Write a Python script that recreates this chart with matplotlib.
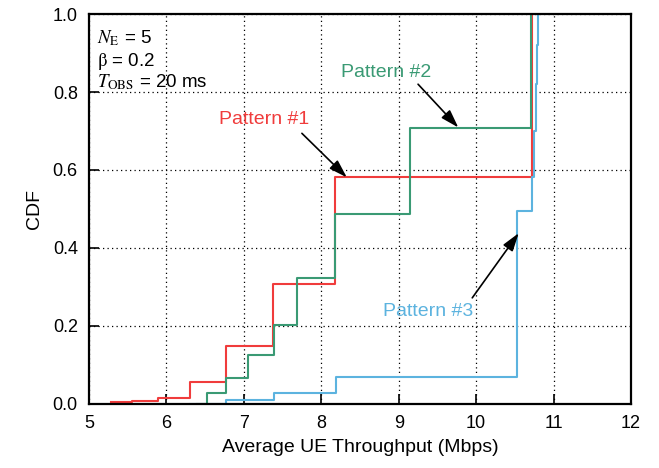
import matplotlib
matplotlib.use("Agg")
import matplotlib.pyplot as plt

plt.rcParams["font.family"] = ["Liberation Sans", "DejaVu Sans"]
plt.rcParams["mathtext.fontset"] = "stix"

# step points (x in Mbps, CDF value from x onward)
p1_x = [5.29, 5.55, 5.89, 6.30, 6.77, 7.38, 8.18, 10.72]
p1_y = [0.004, 0.008, 0.015, 0.057, 0.149, 0.307, 0.583, 1.0]

p2_x = [6.40, 6.53, 6.77, 7.05, 7.39, 7.69, 8.18, 9.15, 10.71]
p2_y = [0.0, 0.027, 0.067, 0.126, 0.203, 0.324, 0.487, 0.708, 1.0]

p3_x = [6.30, 6.77, 7.39, 8.19, 10.53, 10.72, 10.75, 10.77, 10.79, 10.80]
p3_y = [0.0, 0.010, 0.029, 0.070, 0.496, 0.581, 0.70, 0.82, 0.92, 1.0]

x_ticks = [5, 6, 7, 8, 9, 10, 11, 12]
y_ticks = [0.0, 0.2, 0.4, 0.6, 0.8, 1.0]

RED = "#f03c3c"
GREEN = "#3a9a74"
BLUE = "#5cb3df"

fig = plt.figure(figsize=(6.59, 4.68), dpi=100)
ax = fig.add_axes([0.135, 0.137, 0.8225, 0.833])

ax.step(p1_x, p1_y, where="post", color=RED, lw=1.5)
ax.step(p2_x, p2_y, where="post", color=GREEN, lw=1.5)
ax.step(p3_x, p3_y, where="post", color=BLUE, lw=1.5)

ax.set_xlim(5, 12)
ax.set_ylim(0, 1)
ax.set_xticks(x_ticks)
ax.set_yticks(y_ticks)
ax.set_yticklabels([f"{v:.1f}" for v in y_ticks])
ax.tick_params(direction="in", length=7, width=1.2, labelsize=13, pad=8)
ax.grid(True, color="black", lw=0.9, linestyle=(0, (1, 2.6)))
for s in ax.spines.values():
    s.set_linewidth(1.6)

ax.set_xlabel("Average UE Throughput (Mbps)", fontsize=14, labelpad=5)
ax.set_ylabel("CDF", fontsize=14, labelpad=7)

# parameter box
ax.text(5.1, 0.926, r"$N_{\mathrm{E}}$ = 5", fontsize=13.5, va="baseline")
ax.text(5.1, 0.867, r"$\mathrm{\beta}$ = 0.2", fontsize=13.5, va="baseline")
ax.text(5.1, 0.812, r"$T_{\mathrm{OBS}}$ = 20 ms", fontsize=13.5, va="baseline")

arrow = dict(arrowstyle="-|>,head_length=1.1,head_width=0.35",
             mutation_scale=10, color="black", lw=1.2,
             shrinkA=0, shrinkB=0)

ax.text(6.68, 0.717, "Pattern #1", color=RED, fontsize=14, va="baseline")
ax.annotate("", xy=(8.33, 0.581), xytext=(7.75, 0.694), arrowprops=arrow)

ax.text(8.26, 0.838, "Pattern #2", color=GREEN, fontsize=14, va="baseline")
ax.annotate("", xy=(9.77, 0.709), xytext=(9.25, 0.82), arrowprops=arrow)

ax.text(8.80, 0.2256, "Pattern #3", color=BLUE, fontsize=14, va="baseline")
ax.annotate("", xy=(10.55, 0.438), xytext=(9.95, 0.272), arrowprops=arrow)

fig.savefig("out.png", dpi=100)
